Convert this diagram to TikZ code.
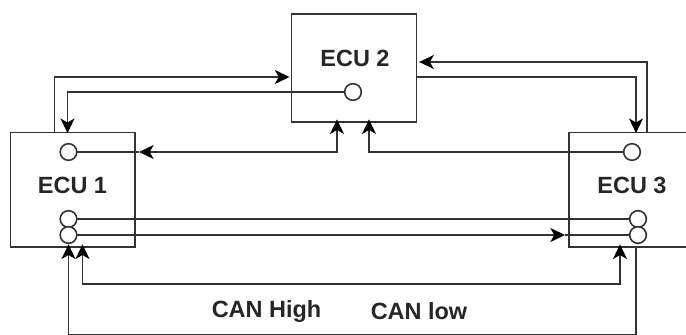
\documentclass[tikz,border=0pt]{standalone}
\usepackage{fontspec}
\setmainfont{Liberation Sans}
\usetikzlibrary{arrows.meta}
\tikzset{
    ecubox/.style={draw=black!80, line width=1.2pt, outer sep=0pt, inner sep=0pt},
    port/.style={circle, draw=black!80, line width=1.2pt, fill=white, inner sep=0pt, minimum size=12.5pt, outer sep=0pt},
    wire/.style={draw=black!80, line width=1.2pt},
    tip/.tip={Stealth[length=11pt,width=10.5pt,inset=3pt,black]},
    ecutext/.style={font=\fontsize{17.6}{20}\selectfont\bfseries, text=black!85, inner sep=0pt},
}

\begin{document}
\begin{tikzpicture}[x=0.75pt,y=-0.75pt]
    \useasboundingbox (0,0) rectangle (686,335);
    \clip (0,0) rectangle (686,335);
    \node[ecubox, minimum width=93.4pt, minimum height=85.9pt] (ecuA) at (72.75,189.75) {};
    \node[ecubox, minimum width=93.75pt, minimum height=81pt] (ecuB) at (354,68) {};
    \node[ecubox, minimum width=101pt, minimum height=85.9pt] (ecuC) at (636.5,189.75) {};
    \node[ecutext] (labelA) at (72.5,185) {ECU 1};
    \node[ecutext] (labelB) at (355,58) {ECU 2};
    \node[ecutext] (labelC) at (632,185) {ECU 3};
    \node[ecutext] (high) at (266.5,311) {CAN High};
    \node[ecutext] (low) at (419,311) {CAN low};
    \node[port] (portA) at (68.5,152) {};
    \node[port] (portAh) at (68.5,219) {};
    \node[port] (portAl) at (68.5,235) {};
    \node[port] (portB) at (353,92) {};
    \node[port] (portC) at (632,152) {};
    \node[port] (portCh) at (638,219) {};
    \node[port] (portCl) at (638,235) {};
    \coordinate (AtoB) at (54.5,77);
    \coordinate (BtoA) at (67.5,92);
    \coordinate (BtoC) at (636,77);
    \coordinate (CtoB) at (647,62);
    \coordinate (midA) at (139,152);
    \coordinate (midC) at (565,235);
    \coordinate (lowA) at (82.5,284);
    \coordinate (lowC) at (620,284);
    \coordinate (farA) at (68.5,334.5);
    \coordinate (farC) at (636,334.5);
    \draw[wire, -{tip}] (AtoB |- ecuA.north) -- (AtoB) -- ([xshift=-1.5pt]AtoB -| ecuB.west);
    \draw[wire, -{tip}] (portB.west) -- (BtoA) -- ([yshift=-0.5pt]BtoA |- ecuA.north);
    \draw[wire] (portA.east) -- (midA);
    \draw[wire, {tip}-{tip}] (midA) -| ([yshift=2pt,xshift=-12.75pt]ecuB.south);
    \draw[wire, -{tip}] (portC.west) -| ([yshift=2pt,xshift=11.25pt]ecuB.south);
    \draw[wire, -{tip}] (AtoB -| ecuB.east) -- (BtoC) -- ([yshift=-0.5pt]BtoC |- ecuC.north);
    \draw[wire, -{tip}] (CtoB |- ecuC.north) -- (CtoB) -- ([xshift=2pt]CtoB -| ecuB.east);
    \draw[wire] (portAh.east) -- (portCh.west);
    \draw[wire, -{tip}] (portAl.east) -- (midC);
    \draw[wire] (midC) -- (portCl.west);
    \draw[wire, {tip}-{tip}] ([yshift=2pt]lowA |- ecuA.south) -- (lowA) -- (lowC) -- ([yshift=2pt]lowC |- ecuC.south);
    \draw[wire, -{tip}] (farC |- ecuC.south) -- (farC) -- (farA) -- ([yshift=2pt]farA |- ecuA.south);
\end{tikzpicture}
\end{document}
